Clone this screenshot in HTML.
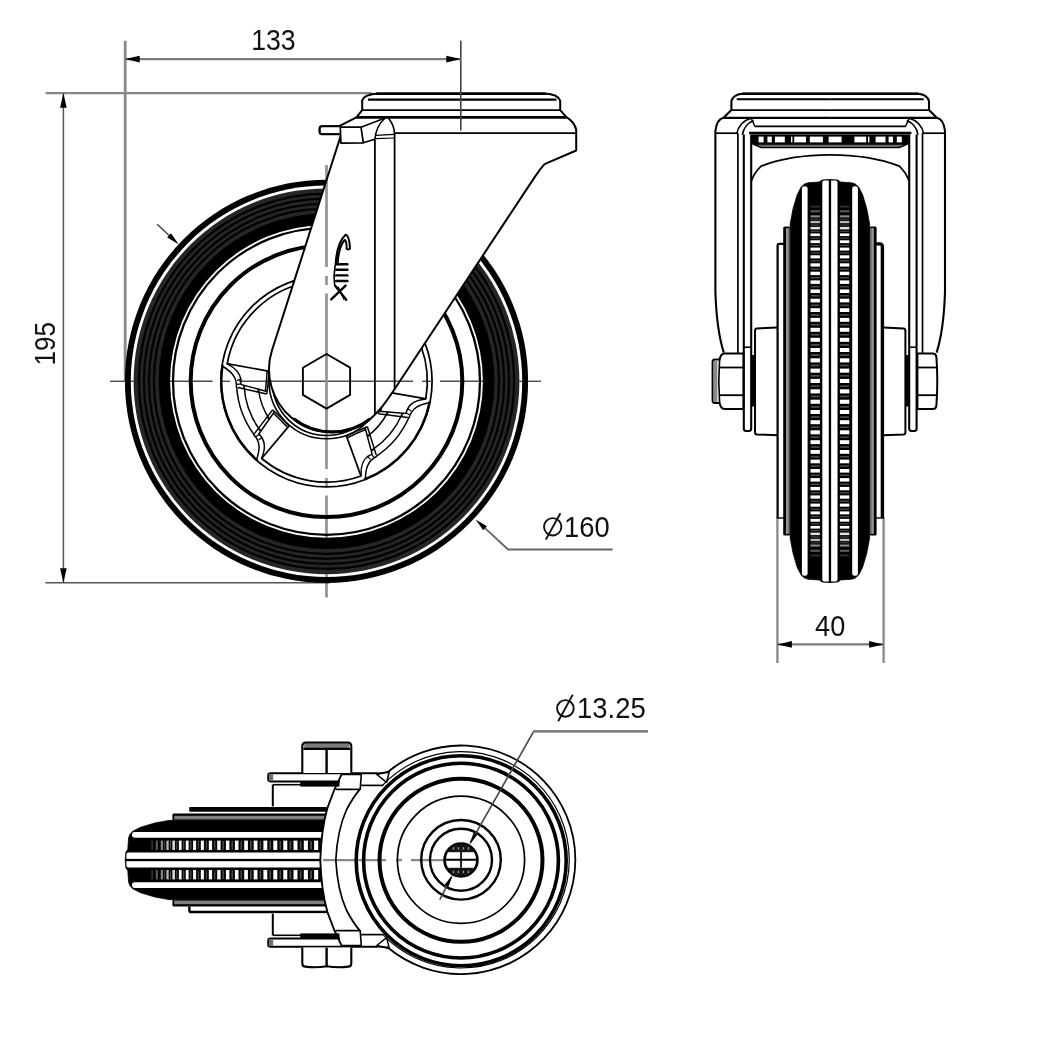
<!DOCTYPE html>
<html lang="en">
<head>
<meta charset="utf-8">
<title>Swivel castor 160 mm - dimensional drawing</title>
<style>
html,body{margin:0;padding:0;background:#fff;}
body{width:1042px;height:1060px;overflow:hidden;font-family:"Liberation Sans",sans-serif;}
svg{display:block;filter:blur(0.55px);}
svg text{font-family:"Liberation Sans",sans-serif;}
</style>
</head>
<body>
<svg width="1042" height="1060" viewBox="0 0 1042 1060" stroke-linecap="butt" stroke-linejoin="round">
<rect x="0" y="0" width="1042" height="1060" fill="#fff"/>
<g id="front-view">
<line x1="45.6" y1="93.2" x2="372" y2="93.2" stroke="#888" stroke-width="2.3"/>
<line x1="45.4" y1="582.8" x2="330" y2="582.8" stroke="#555" stroke-width="1.5"/>
<line x1="125.2" y1="40.7" x2="125.2" y2="381" stroke="#8a8a8a" stroke-width="2.8"/>
<g id="wheel">
<circle cx="326.5" cy="381.3" r="201.6" fill="#000"/>
<circle cx="326.5" cy="381.3" r="195.7" fill="#fff"/>
<circle cx="326.5" cy="381.3" r="192.9" fill="#262626"/>
<circle cx="326.5" cy="381.3" r="172.6" fill="none" stroke="#030303" stroke-width="2.3"/>
<circle cx="326.5" cy="381.3" r="177.6" fill="none" stroke="#030303" stroke-width="2.3"/>
<circle cx="326.5" cy="381.3" r="182.6" fill="none" stroke="#030303" stroke-width="2.3"/>
<circle cx="326.5" cy="381.3" r="187.6" fill="none" stroke="#030303" stroke-width="2.3"/>
<circle cx="326.5" cy="381.3" r="168" fill="#000"/>
<circle cx="326.5" cy="381.3" r="156.4" fill="#fff"/>
<circle cx="326.5" cy="381.3" r="153.5" fill="none" stroke="#000" stroke-width="2.3"/>
<circle cx="326.5" cy="381.3" r="135.8" fill="none" stroke="#000" stroke-width="4"/>
<path d="M361,476 A100.8,100.8 0 0 1 261.7,458.5" fill="none" stroke="#000" stroke-width="1.7"/>
<path d="M227.2,363.8 A100.8,100.8 0 0 1 312.5,281.5" fill="none" stroke="#000" stroke-width="1.7"/>
<path d="M391.3,304.1 A100.8,100.8 0 0 1 425.8,398.8" fill="none" stroke="#000" stroke-width="1.7"/>
<path d="M429.8,401.4 A105.2,105.2 0 0 1 364.2,479.5" fill="none" stroke="#000" stroke-width="2.4"/>
<path d="M388.1,411.3 A68.5,68.5 0 0 1 366.8,436.7" fill="none" stroke="#000" stroke-width="1.5"/>
<path d="M402.3,413.8 A82.5,82.5 0 0 1 371.7,450.3" fill="none" stroke="#000" stroke-width="1.5"/>
<path d="M409,417.3 A90,90 0 0 1 376.3,456.3" fill="none" stroke="#000" stroke-width="1.5"/>
<path d="M257.5,460.7 A105.2,105.2 0 0 1 222.6,364.8" fill="none" stroke="#000" stroke-width="2.4"/>
<path d="M269.7,419.6 A68.5,68.5 0 0 1 258.4,388.5" fill="none" stroke="#000" stroke-width="1.5"/>
<path d="M260.4,430.7 A82.5,82.5 0 0 1 244.1,385.9" fill="none" stroke="#000" stroke-width="1.5"/>
<path d="M254.1,434.7 A90,90 0 0 1 236.7,387" fill="none" stroke="#000" stroke-width="1.5"/>
<path d="M292.3,281.8 A105.2,105.2 0 0 1 392.7,299.5" fill="none" stroke="#000" stroke-width="2.4"/>
<path d="M321.7,313 A68.5,68.5 0 0 1 354.4,318.7" fill="none" stroke="#000" stroke-width="1.5"/>
<path d="M316.7,299.4 A82.5,82.5 0 0 1 363.7,307.7" fill="none" stroke="#000" stroke-width="1.5"/>
<path d="M316.5,291.9 A90,90 0 0 1 366.5,300.7" fill="none" stroke="#000" stroke-width="1.5"/>
<circle cx="326.5" cy="381.3" r="105.6" fill="none" stroke="#000" stroke-width="1.7"/>
<circle cx="326.5" cy="381.3" r="57.5" fill="none" stroke="#000" stroke-width="1.6"/>
<circle cx="326.5" cy="381.3" r="54.2" fill="none" stroke="#000" stroke-width="1.6"/>
<circle cx="326.5" cy="381.3" r="50" fill="none" stroke="#000" stroke-width="1.6"/>
<path d="M269.6,371.3 L226.8,363.7" fill="none" stroke="#000" stroke-width="1.7"/>
<path d="M267,391.5 L240.5,384.4" fill="none" stroke="#000" stroke-width="1.5"/>
<path d="M266.8,394 L237.7,387.6" fill="none" stroke="#000" stroke-width="1.5"/>
<path d="M269,371.5 L268.4,381.2 L266.8,394" fill="none" stroke="#000" stroke-width="1.5"/>
<path d="M267.1,371 L266.5,380.9 L265.3,391" fill="none" stroke="#000" stroke-width="1.5"/>
<path d="M226.8,363.7 C233.5,367.1 242.4,372.6 240.8,384.3" fill="none" stroke="#000" stroke-width="1.5"/>
<path d="M223.1,366.5 C229.8,370.9 237.4,376.3 236.4,387.6" fill="none" stroke="#000" stroke-width="1.5"/>
<path d="M241.5,379.1 L237,380.3" fill="none" stroke="#000" stroke-width="1.2"/>
<path d="M240.8,383.8 L236.9,384.4" fill="none" stroke="#000" stroke-width="1.2"/>
<path d="M258.5,389.2 L257.7,392" fill="none" stroke="#000" stroke-width="1.2"/>
<path d="M244.5,385.5 L243.6,388.9" fill="none" stroke="#000" stroke-width="1.2"/>
<path d="M289.3,425.6 L261.4,458.8" fill="none" stroke="#000" stroke-width="1.7"/>
<path d="M274.4,411.7 L258.6,434.2" fill="none" stroke="#000" stroke-width="1.5"/>
<path d="M272.6,409.9 L254.4,433.6" fill="none" stroke="#000" stroke-width="1.5"/>
<path d="M288.8,425.8 L282.1,418.7 L272.6,409.9" fill="none" stroke="#000" stroke-width="1.5"/>
<path d="M287.6,427.4 L280.8,420.2 L273.4,413.2" fill="none" stroke="#000" stroke-width="1.5"/>
<path d="M261.4,458.8 C264.4,451.9 267.7,442 258.9,434.1" fill="none" stroke="#000" stroke-width="1.5"/>
<path d="M256.8,459.1 C259.2,451.4 261.5,442.4 253.5,434.4" fill="none" stroke="#000" stroke-width="1.5"/>
<path d="M262.8,437.6 L258.6,439.6" fill="none" stroke="#000" stroke-width="1.2"/>
<path d="M259.2,434.5 L255.9,436.5" fill="none" stroke="#000" stroke-width="1.2"/>
<path d="M269.3,419 L266.9,417.3" fill="none" stroke="#000" stroke-width="1.2"/>
<path d="M261,430.8 L258.1,428.7" fill="none" stroke="#000" stroke-width="1.2"/>
<path d="M346.3,435.6 L361.1,476.4" fill="none" stroke="#000" stroke-width="1.7"/>
<path d="M365.1,427.7 L372.2,454.3" fill="none" stroke="#000" stroke-width="1.5"/>
<path d="M367.4,426.7 L376.3,455.1" fill="none" stroke="#000" stroke-width="1.5"/>
<path d="M346.7,436 L355.5,431.6 L367.4,426.7" fill="none" stroke="#000" stroke-width="1.5"/>
<path d="M347.3,437.9 L356.1,433.5 L365.5,429.5" fill="none" stroke="#000" stroke-width="1.5"/>
<path d="M361.1,476.4 C360.7,468.9 361,458.5 371.9,454.1" fill="none" stroke="#000" stroke-width="1.5"/>
<path d="M365.4,478.2 C365.8,470.2 366.7,461 376.9,456.2" fill="none" stroke="#000" stroke-width="1.5"/>
<path d="M367.1,456 L370.4,459.3" fill="none" stroke="#000" stroke-width="1.2"/>
<path d="M371.6,454.3 L374,457.3" fill="none" stroke="#000" stroke-width="1.2"/>
<path d="M367.4,436.2 L370.2,435.5" fill="none" stroke="#000" stroke-width="1.2"/>
<path d="M371.2,450.2 L374.5,449.3" fill="none" stroke="#000" stroke-width="1.2"/>
<path d="M383.4,391.3 L426.2,398.9" fill="none" stroke="#000" stroke-width="1.7"/>
<path d="M378.9,411.3 L406.3,413.6" fill="none" stroke="#000" stroke-width="1.5"/>
<path d="M378.3,413.7 L407.8,417.6" fill="none" stroke="#000" stroke-width="1.5"/>
<path d="M383.9,391.7 L381.1,401.1 L378.3,413.7" fill="none" stroke="#000" stroke-width="1.5"/>
<path d="M385.8,392 L383.1,401.4 L380.7,411.4" fill="none" stroke="#000" stroke-width="1.5"/>
<path d="M426.2,398.9 C418.7,399.8 408.5,401.8 406,413.4" fill="none" stroke="#000" stroke-width="1.5"/>
<path d="M428.7,402.8 C420.9,404.5 411.9,407 409,418" fill="none" stroke="#000" stroke-width="1.5"/>
<path d="M407.1,408.3 L410.9,411" fill="none" stroke="#000" stroke-width="1.2"/>
<path d="M406.2,413 L409.6,414.8" fill="none" stroke="#000" stroke-width="1.2"/>
<path d="M387.7,412 L387.5,414.9" fill="none" stroke="#000" stroke-width="1.2"/>
<path d="M402.1,413.3 L401.8,416.8" fill="none" stroke="#000" stroke-width="1.2"/>
</g>
<path d="M340.9,135.3 L272,350.2 A63,63 0 0 0 361.6,425 C375.7,417.5 386.2,401.7 394.5,389.2 L535.0,176.6 Q540.2,169 544.5,164.2 L576.2,150.5 L576.2,129.8 Q574.5,122 566.4,117.2 L560.2,110.1 L560.2,100.7 Q558.2,94.4 544.6,93.6 L378,93.6 Q364.3,94.4 362.2,100.3 L362.2,110.2 L356.4,117.4 L339.2,126.2 L322,126.2 Q319.6,126.2 319.6,128.6 L319.6,131.8 Q319.6,134.2 322,134.2 L340.6,134.2 Z" fill="#fff" stroke="#000" stroke-width="2"/>
<line x1="376" y1="93.7" x2="546" y2="93.7" stroke="#000" stroke-width="2.5"/>
<path d="M370.4,418.6 A62.4,62.4 0 0 1 293.6,418.6" fill="none" stroke="#000" stroke-width="3"/>
<line x1="368" y1="99.6" x2="556.5" y2="99.6" stroke="#000" stroke-width="2.4"/>
<line x1="362.2" y1="110.2" x2="560.2" y2="110.2" stroke="#000" stroke-width="1.7"/>
<line x1="356.4" y1="117.4" x2="566.4" y2="117.4" stroke="#000" stroke-width="2.6"/>
<line x1="394.6" y1="133.2" x2="576.2" y2="133.2" stroke="#000" stroke-width="1.8"/>
<line x1="374.9" y1="139.3" x2="374.9" y2="414.5" stroke="#000" stroke-width="1.8"/>
<line x1="394.6" y1="133.2" x2="394.6" y2="389.2" stroke="#000" stroke-width="1.8"/>
<path d="M340.3,127.2 L361,127.2 L363.3,142.8 L340.9,143.1 Z" fill="#fff" stroke="#000" stroke-width="1.7"/>
<path d="M361,127.2 L380.6,119.8 L385.2,118" fill="none" stroke="#000" stroke-width="1.6"/>
<path d="M363.3,142.8 L374.9,139.3" fill="none" stroke="#000" stroke-width="1.6"/>
<path d="M385.2,118 Q376,126 374.9,139.3" fill="none" stroke="#000" stroke-width="1.6"/>
<path d="M388.7,118.4 Q394,125 394.6,133.2" fill="none" stroke="#000" stroke-width="1.6"/>
<line x1="375.5" y1="135.3" x2="394.2" y2="134.3" stroke="#000" stroke-width="1.2"/>
<line x1="375.5" y1="138.6" x2="394.2" y2="138" stroke="#000" stroke-width="1.2"/>
<path d="M340.6,126.2 L322,126.2 Q319.6,126.2 319.6,128.6 L319.6,131.8 Q319.6,134.2 322,134.2 L340.6,134.2" fill="none" stroke="#000" stroke-width="1.8"/>
<path d="M350.1,394.9 L326.5,408.6 L302.9,394.9 L302.9,367.7 L326.5,354 L350.1,367.6 Z" fill="none" stroke="#000" stroke-width="1.9"/>
<g fill="none" stroke="#000" stroke-linecap="round">
<path d="M335.6,265 Q336.5,243 345.8,234.6 Q349.5,236 350,248.6 Q347.5,250.2 346.6,248.8 Q346.8,240.5 344.6,240 Q338.6,247 337.6,264" fill="none" stroke="#000" stroke-width="2"/>
<line x1="336.2" y1="264.2" x2="347.4" y2="264.2" stroke="#000" stroke-width="2.4"/>
<line x1="336.2" y1="269.8" x2="347.4" y2="269.8" stroke="#000" stroke-width="2.4"/>
<line x1="336.2" y1="275.4" x2="347.4" y2="275.4" stroke="#000" stroke-width="2.4"/>
<line x1="336.2" y1="281" x2="347.4" y2="281" stroke="#000" stroke-width="2.4"/>
<path d="M335,266 Q333.4,276 334.6,285" fill="none" stroke="#000" stroke-width="1.6"/>
<line x1="331.2" y1="299.4" x2="345.6" y2="285.6" stroke="#000" stroke-width="2.4"/>
<line x1="335.2" y1="285.8" x2="346.2" y2="299.8" stroke="#000" stroke-width="2.4"/>
<line x1="338.4" y1="287" x2="343.8" y2="299.4" stroke="#000" stroke-width="1.1"/>
</g>
<g style="mix-blend-mode:multiply">
<line x1="110" y1="381.3" x2="124.9" y2="381.3" stroke="#4c4c4c" stroke-width="1.4"/>
<line x1="130.8" y1="381.3" x2="133.7" y2="381.3" stroke="#4c4c4c" stroke-width="1.4"/>
<line x1="170" y1="381.3" x2="212.5" y2="381.3" stroke="#4c4c4c" stroke-width="1.4"/>
<line x1="221" y1="381.3" x2="230" y2="381.3" stroke="#4c4c4c" stroke-width="1.4"/>
<line x1="239" y1="381.3" x2="413" y2="381.3" stroke="#4c4c4c" stroke-width="1.4"/>
<line x1="422" y1="381.3" x2="431" y2="381.3" stroke="#4c4c4c" stroke-width="1.4"/>
<line x1="440" y1="381.3" x2="483" y2="381.3" stroke="#4c4c4c" stroke-width="1.4"/>
<line x1="519.3" y1="381.3" x2="522.2" y2="381.3" stroke="#4c4c4c" stroke-width="1.4"/>
<line x1="528.1" y1="381.3" x2="541" y2="381.3" stroke="#4c4c4c" stroke-width="1.4"/>
<line x1="326.5" y1="165" x2="326.5" y2="267" stroke="#969696" stroke-width="2.8"/>
<line x1="326.5" y1="276" x2="326.5" y2="285" stroke="#969696" stroke-width="2.8"/>
<line x1="326.5" y1="293.5" x2="326.5" y2="469" stroke="#969696" stroke-width="2.8"/>
<line x1="326.5" y1="478" x2="326.5" y2="487" stroke="#969696" stroke-width="2.8"/>
<line x1="326.5" y1="495.5" x2="326.5" y2="538.1" stroke="#969696" stroke-width="2.8"/>
<line x1="326.5" y1="574.2" x2="326.5" y2="577" stroke="#969696" stroke-width="2.8"/>
<line x1="326.5" y1="582.9" x2="326.5" y2="597.5" stroke="#969696" stroke-width="2.8"/>
</g>
<line x1="460.8" y1="40.7" x2="460.8" y2="130.4" stroke="#444" stroke-width="1.6"/>
<line x1="125.2" y1="59.1" x2="460.8" y2="59.1" stroke="#7c7c7c" stroke-width="2.4"/>
<polygon points="125.2,59.1 139.7,55.8 139.7,62.4" fill="#000"/>
<polygon points="460.8,59.1 446.3,62.4 446.3,55.8" fill="#000"/>
<text x="273.4" y="50.1" font-size="29.4" text-anchor="middle" fill="#111" textLength="44.5" lengthAdjust="spacingAndGlyphs">133</text>
<line x1="63.4" y1="93.2" x2="63.4" y2="582.8" stroke="#555" stroke-width="1.5"/>
<polygon points="63.4,93.2 66.7,107.7 60.1,107.7" fill="#000"/>
<polygon points="63.4,582.8 60.1,568.3 66.7,568.3" fill="#000"/>
<text x="55.5" y="343.8" font-size="29.4" text-anchor="middle" fill="#111" textLength="43.6" lengthAdjust="spacingAndGlyphs" transform="rotate(-90 55.5 343.8)">195</text>
<line x1="157.2" y1="224.2" x2="170" y2="236.2" stroke="#444" stroke-width="1.5"/>
<polygon points="178.6,244.2 167.2,237.4 171,233.3" fill="#000"/>
<path d="M485,528.2 L508.1,549.5 L612.7,549.5" fill="none" stroke="#666" stroke-width="1.8"/>
<polygon points="475.6,519.4 487,526.2 483.2,530.3" fill="#000"/>
<circle cx="552.7" cy="526.8" r="8.7" fill="none" stroke="#111" stroke-width="1.9"/>
<line x1="545.8" y1="539.6" x2="560.4" y2="513.2" stroke="#111" stroke-width="1.9"/>
<text x="586.9" y="536.7" font-size="29.4" text-anchor="middle" fill="#111" textLength="45.6" lengthAdjust="spacingAndGlyphs">160</text>
</g>
<g id="side-view">
<line x1="777.4" y1="517" x2="777.4" y2="663" stroke="#888" stroke-width="2.3"/>
<line x1="883.6" y1="517" x2="883.6" y2="663" stroke="#888" stroke-width="2.3"/>
<path d="M829.9,179.4 L822.4,180 L820.7,180.8 L819.5,182 L808,182.8 L804.5,184 L801.1,187 L797.1,194.9 L793,208.9 L790.2,223.9 L790.2,538.1 L793,553.1 L797.1,567.1 L801.1,575 L804.5,578 L808,579.2 L819.5,580 L820.7,581.2 L822.4,582 L829.9,582.6 L837.4,582 L839.1,581.2 L840.3,580 L851.8,579.2 L855.3,578 L858.7,575 L862.7,567.1 L866.8,553.1 L869.6,538.1 L869.6,223.9 L866.8,208.9 L862.7,194.9 L858.7,187 L855.3,184 L851.8,182.8 L840.3,182 L839.1,180.8 L837.4,180 Z" fill="#000" stroke="#000" stroke-width="0.8"/>
<rect x="822.3" y="180.6" width="15.2" height="400.8" fill="#fff" rx="2"/>
<rect x="828.8" y="180" width="2.3" height="402.4" fill="#000"/>
<rect x="801.9" y="186.2" width="5.7" height="389.6" fill="#fff" rx="2.4"/>
<rect x="852.2" y="186.2" width="5.7" height="389.6" fill="#fff" rx="2.4"/>
<rect x="810.5" y="205.7" width="9.4" height="1.8" fill="#2f2f2f"/>
<rect x="839.9" y="205.7" width="9.4" height="1.8" fill="#2f2f2f"/>
<rect x="810.5" y="210.3" width="9.4" height="2" fill="#5e5e5e"/>
<rect x="839.9" y="210.3" width="9.4" height="2" fill="#5e5e5e"/>
<rect x="810.5" y="215.3" width="9.4" height="2.1" fill="#8b8b8b"/>
<rect x="839.9" y="215.3" width="9.4" height="2.1" fill="#8b8b8b"/>
<rect x="810.9" y="218.7" width="8.6" height="1" fill="#4a4a4a"/>
<rect x="840.3" y="218.7" width="8.6" height="1" fill="#4a4a4a"/>
<rect x="810.5" y="220.9" width="9.4" height="2.3" fill="#b7b7b7"/>
<rect x="839.9" y="220.9" width="9.4" height="2.3" fill="#b7b7b7"/>
<rect x="810.9" y="224.5" width="8.6" height="1.1" fill="#4a4a4a"/>
<rect x="840.3" y="224.5" width="8.6" height="1.1" fill="#4a4a4a"/>
<rect x="810.5" y="226.9" width="9.4" height="2.5" fill="#e2e2e2"/>
<rect x="839.9" y="226.9" width="9.4" height="2.5" fill="#e2e2e2"/>
<rect x="810.9" y="230.8" width="8.6" height="1.1" fill="#4a4a4a"/>
<rect x="840.3" y="230.8" width="8.6" height="1.1" fill="#4a4a4a"/>
<rect x="810.5" y="233.4" width="9.4" height="2.7" fill="#ffffff"/>
<rect x="839.9" y="233.4" width="9.4" height="2.7" fill="#ffffff"/>
<rect x="810.9" y="237.6" width="8.6" height="1.2" fill="#4a4a4a"/>
<rect x="840.3" y="237.6" width="8.6" height="1.2" fill="#4a4a4a"/>
<rect x="810.5" y="240.3" width="9.4" height="2.8" fill="#ffffff"/>
<rect x="839.9" y="240.3" width="9.4" height="2.8" fill="#ffffff"/>
<rect x="810.9" y="244.7" width="8.6" height="1.3" fill="#4a4a4a"/>
<rect x="840.3" y="244.7" width="8.6" height="1.3" fill="#4a4a4a"/>
<rect x="810.5" y="247.6" width="9.4" height="3" fill="#ffffff"/>
<rect x="839.9" y="247.6" width="9.4" height="3" fill="#ffffff"/>
<rect x="810.9" y="252.2" width="8.6" height="1.3" fill="#4a4a4a"/>
<rect x="840.3" y="252.2" width="8.6" height="1.3" fill="#4a4a4a"/>
<rect x="810.5" y="255.3" width="9.4" height="3.1" fill="#ffffff"/>
<rect x="839.9" y="255.3" width="9.4" height="3.1" fill="#ffffff"/>
<rect x="810.9" y="260.2" width="8.6" height="1.4" fill="#4a4a4a"/>
<rect x="840.3" y="260.2" width="8.6" height="1.4" fill="#4a4a4a"/>
<rect x="810.5" y="263.3" width="9.4" height="3.3" fill="#ffffff"/>
<rect x="839.9" y="263.3" width="9.4" height="3.3" fill="#ffffff"/>
<rect x="810.9" y="268.4" width="8.6" height="1.5" fill="#4a4a4a"/>
<rect x="840.3" y="268.4" width="8.6" height="1.5" fill="#4a4a4a"/>
<rect x="810.5" y="271.7" width="9.4" height="3.4" fill="#ffffff"/>
<rect x="839.9" y="271.7" width="9.4" height="3.4" fill="#ffffff"/>
<rect x="810.9" y="277" width="8.6" height="1.5" fill="#4a4a4a"/>
<rect x="840.3" y="277" width="8.6" height="1.5" fill="#4a4a4a"/>
<rect x="810.5" y="280.4" width="9.4" height="3.5" fill="#ffffff"/>
<rect x="839.9" y="280.4" width="9.4" height="3.5" fill="#ffffff"/>
<rect x="810.9" y="285.9" width="8.6" height="1.6" fill="#4a4a4a"/>
<rect x="840.3" y="285.9" width="8.6" height="1.6" fill="#4a4a4a"/>
<rect x="810.5" y="289.4" width="9.4" height="3.6" fill="#ffffff"/>
<rect x="839.9" y="289.4" width="9.4" height="3.6" fill="#ffffff"/>
<rect x="810.9" y="295" width="8.6" height="1.6" fill="#4a4a4a"/>
<rect x="840.3" y="295" width="8.6" height="1.6" fill="#4a4a4a"/>
<rect x="810.5" y="298.7" width="9.4" height="3.7" fill="#ffffff"/>
<rect x="839.9" y="298.7" width="9.4" height="3.7" fill="#ffffff"/>
<rect x="810.9" y="304.5" width="8.6" height="1.7" fill="#4a4a4a"/>
<rect x="840.3" y="304.5" width="8.6" height="1.7" fill="#4a4a4a"/>
<rect x="810.5" y="308.2" width="9.4" height="3.8" fill="#ffffff"/>
<rect x="839.9" y="308.2" width="9.4" height="3.8" fill="#ffffff"/>
<rect x="810.9" y="314.1" width="8.6" height="1.7" fill="#4a4a4a"/>
<rect x="840.3" y="314.1" width="8.6" height="1.7" fill="#4a4a4a"/>
<rect x="810.5" y="317.9" width="9.4" height="3.9" fill="#ffffff"/>
<rect x="839.9" y="317.9" width="9.4" height="3.9" fill="#ffffff"/>
<rect x="810.9" y="323.9" width="8.6" height="1.7" fill="#4a4a4a"/>
<rect x="840.3" y="323.9" width="8.6" height="1.7" fill="#4a4a4a"/>
<rect x="810.5" y="327.8" width="9.4" height="4" fill="#ffffff"/>
<rect x="839.9" y="327.8" width="9.4" height="4" fill="#ffffff"/>
<rect x="810.9" y="333.9" width="8.6" height="1.7" fill="#4a4a4a"/>
<rect x="840.3" y="333.9" width="8.6" height="1.7" fill="#4a4a4a"/>
<rect x="810.5" y="337.8" width="9.4" height="4" fill="#ffffff"/>
<rect x="839.9" y="337.8" width="9.4" height="4" fill="#ffffff"/>
<rect x="810.9" y="344" width="8.6" height="1.8" fill="#4a4a4a"/>
<rect x="840.3" y="344" width="8.6" height="1.8" fill="#4a4a4a"/>
<rect x="810.5" y="348" width="9.4" height="4" fill="#ffffff"/>
<rect x="839.9" y="348" width="9.4" height="4" fill="#ffffff"/>
<rect x="810.9" y="354.2" width="8.6" height="1.8" fill="#4a4a4a"/>
<rect x="840.3" y="354.2" width="8.6" height="1.8" fill="#4a4a4a"/>
<rect x="810.5" y="358.3" width="9.4" height="4.1" fill="#ffffff"/>
<rect x="839.9" y="358.3" width="9.4" height="4.1" fill="#ffffff"/>
<rect x="810.9" y="364.6" width="8.6" height="1.8" fill="#4a4a4a"/>
<rect x="840.3" y="364.6" width="8.6" height="1.8" fill="#4a4a4a"/>
<rect x="810.5" y="368.6" width="9.4" height="4.1" fill="#ffffff"/>
<rect x="839.9" y="368.6" width="9.4" height="4.1" fill="#ffffff"/>
<rect x="810.9" y="374.9" width="8.6" height="1.8" fill="#4a4a4a"/>
<rect x="840.3" y="374.9" width="8.6" height="1.8" fill="#4a4a4a"/>
<rect x="810.5" y="378.9" width="9.4" height="4.1" fill="#ffffff"/>
<rect x="839.9" y="378.9" width="9.4" height="4.1" fill="#ffffff"/>
<rect x="810.9" y="385.3" width="8.6" height="1.8" fill="#4a4a4a"/>
<rect x="840.3" y="385.3" width="8.6" height="1.8" fill="#4a4a4a"/>
<rect x="810.5" y="389.3" width="9.4" height="4.1" fill="#ffffff"/>
<rect x="839.9" y="389.3" width="9.4" height="4.1" fill="#ffffff"/>
<rect x="810.9" y="395.6" width="8.6" height="1.8" fill="#4a4a4a"/>
<rect x="840.3" y="395.6" width="8.6" height="1.8" fill="#4a4a4a"/>
<rect x="810.5" y="399.7" width="9.4" height="4.1" fill="#ffffff"/>
<rect x="839.9" y="399.7" width="9.4" height="4.1" fill="#ffffff"/>
<rect x="810.9" y="406" width="8.6" height="1.8" fill="#4a4a4a"/>
<rect x="840.3" y="406" width="8.6" height="1.8" fill="#4a4a4a"/>
<rect x="810.5" y="410" width="9.4" height="4" fill="#ffffff"/>
<rect x="839.9" y="410" width="9.4" height="4" fill="#ffffff"/>
<rect x="810.9" y="416.2" width="8.6" height="1.8" fill="#4a4a4a"/>
<rect x="840.3" y="416.2" width="8.6" height="1.8" fill="#4a4a4a"/>
<rect x="810.5" y="420.2" width="9.4" height="4" fill="#ffffff"/>
<rect x="839.9" y="420.2" width="9.4" height="4" fill="#ffffff"/>
<rect x="810.9" y="426.4" width="8.6" height="1.7" fill="#4a4a4a"/>
<rect x="840.3" y="426.4" width="8.6" height="1.7" fill="#4a4a4a"/>
<rect x="810.5" y="430.3" width="9.4" height="4" fill="#ffffff"/>
<rect x="839.9" y="430.3" width="9.4" height="4" fill="#ffffff"/>
<rect x="810.9" y="436.4" width="8.6" height="1.7" fill="#4a4a4a"/>
<rect x="840.3" y="436.4" width="8.6" height="1.7" fill="#4a4a4a"/>
<rect x="810.5" y="440.2" width="9.4" height="3.9" fill="#ffffff"/>
<rect x="839.9" y="440.2" width="9.4" height="3.9" fill="#ffffff"/>
<rect x="810.9" y="446.2" width="8.6" height="1.7" fill="#4a4a4a"/>
<rect x="840.3" y="446.2" width="8.6" height="1.7" fill="#4a4a4a"/>
<rect x="810.5" y="450" width="9.4" height="3.8" fill="#ffffff"/>
<rect x="839.9" y="450" width="9.4" height="3.8" fill="#ffffff"/>
<rect x="810.9" y="455.9" width="8.6" height="1.7" fill="#4a4a4a"/>
<rect x="840.3" y="455.9" width="8.6" height="1.7" fill="#4a4a4a"/>
<rect x="810.5" y="459.6" width="9.4" height="3.7" fill="#ffffff"/>
<rect x="839.9" y="459.6" width="9.4" height="3.7" fill="#ffffff"/>
<rect x="810.9" y="465.3" width="8.6" height="1.6" fill="#4a4a4a"/>
<rect x="840.3" y="465.3" width="8.6" height="1.6" fill="#4a4a4a"/>
<rect x="810.5" y="469" width="9.4" height="3.6" fill="#ffffff"/>
<rect x="839.9" y="469" width="9.4" height="3.6" fill="#ffffff"/>
<rect x="810.9" y="474.5" width="8.6" height="1.6" fill="#4a4a4a"/>
<rect x="840.3" y="474.5" width="8.6" height="1.6" fill="#4a4a4a"/>
<rect x="810.5" y="478.1" width="9.4" height="3.5" fill="#ffffff"/>
<rect x="839.9" y="478.1" width="9.4" height="3.5" fill="#ffffff"/>
<rect x="810.9" y="483.5" width="8.6" height="1.5" fill="#4a4a4a"/>
<rect x="840.3" y="483.5" width="8.6" height="1.5" fill="#4a4a4a"/>
<rect x="810.5" y="486.9" width="9.4" height="3.4" fill="#ffffff"/>
<rect x="839.9" y="486.9" width="9.4" height="3.4" fill="#ffffff"/>
<rect x="810.9" y="492.1" width="8.6" height="1.5" fill="#4a4a4a"/>
<rect x="840.3" y="492.1" width="8.6" height="1.5" fill="#4a4a4a"/>
<rect x="810.5" y="495.4" width="9.4" height="3.3" fill="#ffffff"/>
<rect x="839.9" y="495.4" width="9.4" height="3.3" fill="#ffffff"/>
<rect x="810.9" y="500.4" width="8.6" height="1.4" fill="#4a4a4a"/>
<rect x="840.3" y="500.4" width="8.6" height="1.4" fill="#4a4a4a"/>
<rect x="810.5" y="503.6" width="9.4" height="3.1" fill="#ffffff"/>
<rect x="839.9" y="503.6" width="9.4" height="3.1" fill="#ffffff"/>
<rect x="810.9" y="508.4" width="8.6" height="1.3" fill="#4a4a4a"/>
<rect x="840.3" y="508.4" width="8.6" height="1.3" fill="#4a4a4a"/>
<rect x="810.5" y="511.4" width="9.4" height="3" fill="#ffffff"/>
<rect x="839.9" y="511.4" width="9.4" height="3" fill="#ffffff"/>
<rect x="810.9" y="516" width="8.6" height="1.3" fill="#4a4a4a"/>
<rect x="840.3" y="516" width="8.6" height="1.3" fill="#4a4a4a"/>
<rect x="810.5" y="518.9" width="9.4" height="2.8" fill="#ffffff"/>
<rect x="839.9" y="518.9" width="9.4" height="2.8" fill="#ffffff"/>
<rect x="810.9" y="523.2" width="8.6" height="1.2" fill="#4a4a4a"/>
<rect x="840.3" y="523.2" width="8.6" height="1.2" fill="#4a4a4a"/>
<rect x="810.5" y="525.9" width="9.4" height="2.7" fill="#ffffff"/>
<rect x="839.9" y="525.9" width="9.4" height="2.7" fill="#ffffff"/>
<rect x="810.9" y="530" width="8.6" height="1.1" fill="#4a4a4a"/>
<rect x="840.3" y="530" width="8.6" height="1.1" fill="#4a4a4a"/>
<rect x="810.5" y="532.6" width="9.4" height="2.5" fill="#e2e2e2"/>
<rect x="839.9" y="532.6" width="9.4" height="2.5" fill="#e2e2e2"/>
<rect x="810.9" y="536.4" width="8.6" height="1.1" fill="#4a4a4a"/>
<rect x="840.3" y="536.4" width="8.6" height="1.1" fill="#4a4a4a"/>
<rect x="810.5" y="538.8" width="9.4" height="2.3" fill="#b7b7b7"/>
<rect x="839.9" y="538.8" width="9.4" height="2.3" fill="#b7b7b7"/>
<rect x="810.9" y="542.3" width="8.6" height="1" fill="#4a4a4a"/>
<rect x="840.3" y="542.3" width="8.6" height="1" fill="#4a4a4a"/>
<rect x="810.5" y="544.5" width="9.4" height="2.1" fill="#8b8b8b"/>
<rect x="839.9" y="544.5" width="9.4" height="2.1" fill="#8b8b8b"/>
<rect x="810.5" y="549.8" width="9.4" height="2" fill="#5e5e5e"/>
<rect x="839.9" y="549.8" width="9.4" height="2" fill="#5e5e5e"/>
<rect x="810.5" y="554.6" width="9.4" height="1.8" fill="#2f2f2f"/>
<rect x="839.9" y="554.6" width="9.4" height="1.8" fill="#2f2f2f"/>
<rect x="783.2" y="226.4" width="7" height="309.2" fill="#000" rx="1.5"/>
<rect x="786.3" y="228.2" width="3.3" height="305.6" fill="#7a7a7a"/>
<rect x="786.3" y="228.2" width="1" height="305.6" fill="#b8b8b8"/>
<rect x="869.6" y="226.4" width="7" height="309.2" fill="#000" rx="1.5"/>
<rect x="870.2" y="228.2" width="3.3" height="305.6" fill="#7a7a7a"/>
<rect x="872.5" y="228.2" width="1" height="305.6" fill="#b8b8b8"/>
<path d="M785,243.9 L779.4,243.9 Q777.6,243.9 777.6,245.7 L777.6,518" fill="none" stroke="#000" stroke-width="2.2"/>
<path d="M875.4,243.9 L879.6,243.9 Q882.4,243.9 882.4,246.7 L882.4,518" fill="none" stroke="#000" stroke-width="3.4"/>
<line x1="785" y1="518" x2="777" y2="518" stroke="#000" stroke-width="1.4"/>
<line x1="875" y1="518" x2="884" y2="518" stroke="#000" stroke-width="1.4"/>
<path d="M830.2,93.7 L742.2,93.7 Q733.2,94.6 731.4,101.0 L731.4,110.1 L723.6,117.8 Q716.6,119.5 715.4,131 L715.4,292 Q716.6,330 723.8,352.6" fill="none" stroke="#000" stroke-width="2.1"/>
<line x1="830.2" y1="93.7" x2="742.2" y2="93.7" stroke="#000" stroke-width="2.5"/>
<line x1="830.2" y1="99.2" x2="736.7" y2="99.2" stroke="#000" stroke-width="1.9"/>
<line x1="830.2" y1="110.1" x2="731.4" y2="110.1" stroke="#000" stroke-width="1.7"/>
<line x1="830.2" y1="117.8" x2="723.6" y2="117.8" stroke="#000" stroke-width="2.3"/>
<line x1="715.4" y1="133.2" x2="737.9" y2="133.2" stroke="#000" stroke-width="1.7"/>
<line x1="737.9" y1="133.2" x2="737.9" y2="353" stroke="#000" stroke-width="1.7"/>
<path d="M743.8,134.5 L743.8,428.6 Q743.8,431 745.8,431 L749,431 Q751.2,431 751.2,428.6 L751.2,134.5" fill="none" stroke="#000" stroke-width="2.1"/>
<line x1="743.8" y1="347.2" x2="751.2" y2="347.2" stroke="#000" stroke-width="1.6"/>
<path d="M736.8,133.6 Q739.2,121.5 751.2,118.2" fill="none" stroke="#000" stroke-width="1.6"/>
<path d="M742.4,134.8 Q744.2,124.5 753.6,120.6" fill="none" stroke="#000" stroke-width="1.6"/>
<path d="M751.2,118.2 L754.8,126.2" fill="none" stroke="#000" stroke-width="1.5"/>
<rect x="751" y="355" width="3.8" height="51.5" fill="#000"/>
<path d="M777.2,327.6 L756.8,328.4 Q755,328.6 755,330.6 L755,432.2 Q755,434.2 756.8,434.4 L777.2,435.2" fill="none" stroke="#000" stroke-width="2"/>
<path d="M830.2,93.7 L918.2,93.7 Q927.2,94.6 929,101.0 L929,110.1 L936.8,117.8 Q943.8,119.5 945,131 L945,292 Q943.8,330 936.6,352.6" fill="none" stroke="#000" stroke-width="2.1"/>
<line x1="830.2" y1="93.7" x2="918.2" y2="93.7" stroke="#000" stroke-width="2.5"/>
<line x1="830.2" y1="99.2" x2="923.7" y2="99.2" stroke="#000" stroke-width="1.9"/>
<line x1="830.2" y1="110.1" x2="929" y2="110.1" stroke="#000" stroke-width="1.7"/>
<line x1="830.2" y1="117.8" x2="936.8" y2="117.8" stroke="#000" stroke-width="2.3"/>
<line x1="945" y1="133.2" x2="922.5" y2="133.2" stroke="#000" stroke-width="1.7"/>
<line x1="922.5" y1="133.2" x2="922.5" y2="353" stroke="#000" stroke-width="1.7"/>
<path d="M916.6,134.5 L916.6,428.6 Q916.6,431 914.6,431 L911.4,431 Q909.2,431 909.2,428.6 L909.2,134.5" fill="none" stroke="#000" stroke-width="2.1"/>
<line x1="916.6" y1="347.2" x2="909.2" y2="347.2" stroke="#000" stroke-width="1.6"/>
<path d="M923.6,133.6 Q921.2,121.5 909.2,118.2" fill="none" stroke="#000" stroke-width="1.6"/>
<path d="M918,134.8 Q916.2,124.5 906.8,120.6" fill="none" stroke="#000" stroke-width="1.6"/>
<path d="M909.2,118.2 L905.6,126.2" fill="none" stroke="#000" stroke-width="1.5"/>
<rect x="905.6" y="355" width="3.8" height="51.5" fill="#000"/>
<path d="M883.2,327.6 L903.6,328.4 Q905.4,328.6 905.4,330.6 L905.4,432.2 Q905.4,434.2 903.6,434.4 L883.2,435.2" fill="none" stroke="#000" stroke-width="2"/>
<line x1="754.6" y1="126.3" x2="905.8" y2="126.3" stroke="#000" stroke-width="1.7"/>
<line x1="749" y1="133" x2="911.4" y2="133" stroke="#000" stroke-width="2.4"/>
<rect x="751.8" y="134.4" width="156.8" height="9.6" fill="#000"/>
<rect x="758.6" y="136.6" width="5" height="5.8" fill="#fff"/>
<rect x="896.8" y="136.6" width="5" height="5.8" fill="#fff"/>
<rect x="767.4" y="136.6" width="4.4" height="5.8" fill="#fff"/>
<rect x="888.6" y="136.6" width="4.4" height="5.8" fill="#fff"/>
<rect x="774.9" y="136.6" width="9.9" height="5.8" fill="#fff"/>
<rect x="875.6" y="136.6" width="9.9" height="5.8" fill="#fff"/>
<rect x="791" y="136.6" width="1.4" height="5.8" fill="#fff"/>
<rect x="868" y="136.6" width="1.4" height="5.8" fill="#fff"/>
<rect x="794.2" y="136.6" width="11.8" height="5.8" fill="#fff"/>
<rect x="854.4" y="136.6" width="11.8" height="5.8" fill="#fff"/>
<rect x="809.8" y="136.6" width="13.1" height="5.8" fill="#fff"/>
<rect x="828.6" y="136.6" width="13" height="5.8" fill="#fff"/>
<path d="M753,144 L761.2,147.6 L899.2,147.6 L907.4,144 Z" fill="#666" stroke="#000" stroke-width="1.4"/>
<path d="M751.6,180.6 Q754,173 761.1,166.1 Q790,155 830.2,154.9 Q870.4,155 899.3,166.1 Q906.4,173 908.8,180.6" fill="none" stroke="#000" stroke-width="1.7"/>
<path d="M743.4,353.4 L724.0,353.4 Q720.6,354 719.6,359.6 L714.6,359.6 Q712.6,359.8 712.6,362 L712.6,400.4 Q712.6,402.8 714.6,402.9 L719.6,402.9 Q720.6,408.4 724.0,409.0 L743.4,409.0 Z" fill="#fff" stroke="#000" stroke-width="2"/>
<line x1="719.8" y1="367.5" x2="743.4" y2="367.5" stroke="#000" stroke-width="1.8"/>
<line x1="719.8" y1="395.2" x2="743.4" y2="395.2" stroke="#000" stroke-width="1.8"/>
<path d="M719.6,359.6 Q718.0,381 719.6,402.9" fill="none" stroke="#000" stroke-width="1.6"/>
<rect x="713.4" y="361" width="4" height="41" fill="#8a8a8a"/>
<path d="M917.4,353.4 L933.0,353.4 Q936.2,353.6 936.4,357 Q938.2,381 936.4,405.4 Q936.2,408.8 933.0,409.0 L917.4,409.0 Z" fill="#fff" stroke="#000" stroke-width="2"/>
<line x1="917.4" y1="367.5" x2="936.6" y2="367.5" stroke="#000" stroke-width="1.8"/>
<line x1="917.4" y1="395.2" x2="936.6" y2="395.2" stroke="#000" stroke-width="1.8"/>
<line x1="777.4" y1="644.4" x2="883.6" y2="644.4" stroke="#7c7c7c" stroke-width="2.4"/>
<polygon points="777.4,644.4 791.9,641.1 791.9,647.7" fill="#000"/>
<polygon points="883.6,644.4 869.1,647.7 869.1,641.1" fill="#000"/>
<text x="830.2" y="635.5" font-size="29.4" text-anchor="middle" fill="#111" textLength="30.2" lengthAdjust="spacingAndGlyphs">40</text>
</g>
<g id="bottom-view">
<path d="M125.2,860 L125.8,852.5 L126.6,850.8 L127.8,849.6 L128.6,838.1 L129.8,834.6 L132.8,831.2 L140.7,827.2 L154.7,823.1 L169.7,820.3 L330,820.3 L330,899.7 L169.7,899.7 L154.7,896.9 L140.7,892.8 L132.8,888.8 L129.8,885.4 L128.6,881.9 L127.8,870.4 L126.6,869.2 L125.8,867.5 Z" fill="#000" stroke="#000" stroke-width="0.8"/>
<rect x="126.4" y="852.4" width="203.6" height="15.2" fill="#fff" rx="2"/>
<rect x="125.8" y="858.9" width="204.8" height="2.3" fill="#000"/>
<rect x="132" y="832" width="198" height="5.7" fill="#fff" rx="2.4"/>
<rect x="132" y="882.3" width="198" height="5.7" fill="#fff" rx="2.4"/>
<rect x="151.2" y="840.6" width="1.8" height="9.4" fill="#2f2f2f"/>
<rect x="151.2" y="870" width="1.8" height="9.4" fill="#2f2f2f"/>
<rect x="155.8" y="840.6" width="2" height="9.4" fill="#5e5e5e"/>
<rect x="155.8" y="870" width="2" height="9.4" fill="#5e5e5e"/>
<rect x="160.8" y="840.6" width="2.1" height="9.4" fill="#8b8b8b"/>
<rect x="160.8" y="870" width="2.1" height="9.4" fill="#8b8b8b"/>
<rect x="166.4" y="840.6" width="2.3" height="9.4" fill="#b7b7b7"/>
<rect x="166.4" y="870" width="2.3" height="9.4" fill="#b7b7b7"/>
<rect x="164.2" y="841" width="1" height="8.6" fill="#4a4a4a"/>
<rect x="164.2" y="870.4" width="1" height="8.6" fill="#4a4a4a"/>
<rect x="172.4" y="840.6" width="2.5" height="9.4" fill="#e2e2e2"/>
<rect x="172.4" y="870" width="2.5" height="9.4" fill="#e2e2e2"/>
<rect x="170" y="841" width="1.1" height="8.6" fill="#4a4a4a"/>
<rect x="170" y="870.4" width="1.1" height="8.6" fill="#4a4a4a"/>
<rect x="178.9" y="840.6" width="2.7" height="9.4" fill="#ffffff"/>
<rect x="178.9" y="870" width="2.7" height="9.4" fill="#ffffff"/>
<rect x="176.3" y="841" width="1.1" height="8.6" fill="#4a4a4a"/>
<rect x="176.3" y="870.4" width="1.1" height="8.6" fill="#4a4a4a"/>
<rect x="185.8" y="840.6" width="2.8" height="9.4" fill="#ffffff"/>
<rect x="185.8" y="870" width="2.8" height="9.4" fill="#ffffff"/>
<rect x="183.1" y="841" width="1.2" height="8.6" fill="#4a4a4a"/>
<rect x="183.1" y="870.4" width="1.2" height="8.6" fill="#4a4a4a"/>
<rect x="193.1" y="840.6" width="3" height="9.4" fill="#ffffff"/>
<rect x="193.1" y="870" width="3" height="9.4" fill="#ffffff"/>
<rect x="190.2" y="841" width="1.3" height="8.6" fill="#4a4a4a"/>
<rect x="190.2" y="870.4" width="1.3" height="8.6" fill="#4a4a4a"/>
<rect x="200.8" y="840.6" width="3.1" height="9.4" fill="#ffffff"/>
<rect x="200.8" y="870" width="3.1" height="9.4" fill="#ffffff"/>
<rect x="197.7" y="841" width="1.3" height="8.6" fill="#4a4a4a"/>
<rect x="197.7" y="870.4" width="1.3" height="8.6" fill="#4a4a4a"/>
<rect x="208.8" y="840.6" width="3.3" height="9.4" fill="#ffffff"/>
<rect x="208.8" y="870" width="3.3" height="9.4" fill="#ffffff"/>
<rect x="205.7" y="841" width="1.4" height="8.6" fill="#4a4a4a"/>
<rect x="205.7" y="870.4" width="1.4" height="8.6" fill="#4a4a4a"/>
<rect x="217.2" y="840.6" width="3.4" height="9.4" fill="#ffffff"/>
<rect x="217.2" y="870" width="3.4" height="9.4" fill="#ffffff"/>
<rect x="213.9" y="841" width="1.5" height="8.6" fill="#4a4a4a"/>
<rect x="213.9" y="870.4" width="1.5" height="8.6" fill="#4a4a4a"/>
<rect x="225.9" y="840.6" width="3.5" height="9.4" fill="#ffffff"/>
<rect x="225.9" y="870" width="3.5" height="9.4" fill="#ffffff"/>
<rect x="222.5" y="841" width="1.5" height="8.6" fill="#4a4a4a"/>
<rect x="222.5" y="870.4" width="1.5" height="8.6" fill="#4a4a4a"/>
<rect x="234.9" y="840.6" width="3.6" height="9.4" fill="#ffffff"/>
<rect x="234.9" y="870" width="3.6" height="9.4" fill="#ffffff"/>
<rect x="231.4" y="841" width="1.6" height="8.6" fill="#4a4a4a"/>
<rect x="231.4" y="870.4" width="1.6" height="8.6" fill="#4a4a4a"/>
<rect x="244.2" y="840.6" width="3.7" height="9.4" fill="#ffffff"/>
<rect x="244.2" y="870" width="3.7" height="9.4" fill="#ffffff"/>
<rect x="240.5" y="841" width="1.6" height="8.6" fill="#4a4a4a"/>
<rect x="240.5" y="870.4" width="1.6" height="8.6" fill="#4a4a4a"/>
<rect x="253.7" y="840.6" width="3.8" height="9.4" fill="#ffffff"/>
<rect x="253.7" y="870" width="3.8" height="9.4" fill="#ffffff"/>
<rect x="250" y="841" width="1.7" height="8.6" fill="#4a4a4a"/>
<rect x="250" y="870.4" width="1.7" height="8.6" fill="#4a4a4a"/>
<rect x="263.4" y="840.6" width="3.9" height="9.4" fill="#ffffff"/>
<rect x="263.4" y="870" width="3.9" height="9.4" fill="#ffffff"/>
<rect x="259.6" y="841" width="1.7" height="8.6" fill="#4a4a4a"/>
<rect x="259.6" y="870.4" width="1.7" height="8.6" fill="#4a4a4a"/>
<rect x="273.3" y="840.6" width="4" height="9.4" fill="#ffffff"/>
<rect x="273.3" y="870" width="4" height="9.4" fill="#ffffff"/>
<rect x="269.4" y="841" width="1.7" height="8.6" fill="#4a4a4a"/>
<rect x="269.4" y="870.4" width="1.7" height="8.6" fill="#4a4a4a"/>
<rect x="283.3" y="840.6" width="4" height="9.4" fill="#ffffff"/>
<rect x="283.3" y="870" width="4" height="9.4" fill="#ffffff"/>
<rect x="279.4" y="841" width="1.7" height="8.6" fill="#4a4a4a"/>
<rect x="279.4" y="870.4" width="1.7" height="8.6" fill="#4a4a4a"/>
<rect x="293.5" y="840.6" width="4" height="9.4" fill="#ffffff"/>
<rect x="293.5" y="870" width="4" height="9.4" fill="#ffffff"/>
<rect x="289.5" y="841" width="1.8" height="8.6" fill="#4a4a4a"/>
<rect x="289.5" y="870.4" width="1.8" height="8.6" fill="#4a4a4a"/>
<rect x="303.8" y="840.6" width="4.1" height="9.4" fill="#ffffff"/>
<rect x="303.8" y="870" width="4.1" height="9.4" fill="#ffffff"/>
<rect x="299.7" y="841" width="1.8" height="8.6" fill="#4a4a4a"/>
<rect x="299.7" y="870.4" width="1.8" height="8.6" fill="#4a4a4a"/>
<rect x="314.1" y="840.6" width="4.1" height="9.4" fill="#ffffff"/>
<rect x="314.1" y="870" width="4.1" height="9.4" fill="#ffffff"/>
<rect x="310.1" y="841" width="1.8" height="8.6" fill="#4a4a4a"/>
<rect x="310.1" y="870.4" width="1.8" height="8.6" fill="#4a4a4a"/>
<rect x="324.4" y="840.6" width="4.1" height="9.4" fill="#ffffff"/>
<rect x="324.4" y="870" width="4.1" height="9.4" fill="#ffffff"/>
<rect x="320.4" y="841" width="1.8" height="8.6" fill="#4a4a4a"/>
<rect x="320.4" y="870.4" width="1.8" height="8.6" fill="#4a4a4a"/>
<rect x="172.4" y="813.4" width="160" height="6.9" fill="#000" rx="1.5"/>
<rect x="174.2" y="815.8" width="158" height="3.6" fill="#808080"/>
<rect x="172.4" y="899.7" width="160" height="6.9" fill="#000" rx="1.5"/>
<rect x="174.2" y="900.6" width="158" height="3.6" fill="#808080"/>
<rect x="189.2" y="806.9" width="140" height="4.8" fill="#000" rx="1"/>
<path d="M330,912 L191,912 Q189.4,912 189.4,910.4 L189.4,906.4" fill="none" stroke="#000" stroke-width="2.4"/>
<circle cx="461" cy="859.8" r="114.3" fill="#fff"/>
<path d="M320.3,860 L322.4,833 L327.4,808 L334.4,788.8 L341.6,774.4 L400,774.4 L400,860 Z" fill="#fff" stroke="#fff" stroke-width="0"/>
<path d="M272.8,806.6 L272.8,784.7 L338,784.7 L330.5,806.6 Z" fill="#fff" stroke="#fff" stroke-width="0"/>
<line x1="272.8" y1="806.4" x2="272.8" y2="784.7" stroke="#000" stroke-width="2"/>
<line x1="272.8" y1="784.7" x2="301" y2="784.7" stroke="#000" stroke-width="1.6"/>
<rect x="300.3" y="781.2" width="39.2" height="5.4" fill="#000"/>
<path d="M377.8,773.3 L270.6,773.3 Q268.2,773.3 268.2,775.6 L268.2,779.1 Q268.2,781.4 270.6,781.4 L340,781.4" fill="#fff" stroke="#000" stroke-width="2"/>
<rect x="268.8" y="773.9" width="4.4" height="6.9" fill="#707070"/>
<path d="M377.8,773.3 Q383,773.1 387.2,772.4" fill="none" stroke="#000" stroke-width="1.7"/>
<path d="M320.3,860 Q321.2,830 327.4,808 Q333.4,790 341.6,774.4" fill="none" stroke="#000" stroke-width="1.9"/>
<path d="M335.8,860 Q337.4,830 346.4,810 Q352.6,798 359.6,789.6" fill="none" stroke="#000" stroke-width="1.7"/>
<path d="M341.6,774.4 L361.3,774.4 L360.2,789.4 L335.6,789.4" fill="none" stroke="#000" stroke-width="1.6"/>
<line x1="361.2" y1="785.4" x2="383.2" y2="785.4" stroke="#000" stroke-width="1.7"/>
<path d="M376.8,774.5 L386.6,782.3 L389.4,771.4 Z" fill="none" stroke="#000" stroke-width="1.5"/>
<path d="M320.3,860 L322.4,887 L327.4,912 L334.4,931.2 L341.6,945.6 L400,945.6 L400,860 Z" fill="#fff" stroke="#fff" stroke-width="0"/>
<path d="M272.8,913.4 L272.8,935.3 L338,935.3 L330.5,913.4 Z" fill="#fff" stroke="#fff" stroke-width="0"/>
<line x1="272.8" y1="913.6" x2="272.8" y2="935.3" stroke="#000" stroke-width="2"/>
<line x1="272.8" y1="935.3" x2="301" y2="935.3" stroke="#000" stroke-width="1.6"/>
<rect x="300.3" y="933.4" width="39.2" height="5.4" fill="#000"/>
<path d="M377.8,946.7 L270.6,946.7 Q268.2,946.7 268.2,944.4 L268.2,940.9 Q268.2,938.6 270.6,938.6 L340,938.6" fill="#fff" stroke="#000" stroke-width="2"/>
<rect x="268.8" y="939.2" width="4.4" height="6.9" fill="#707070"/>
<path d="M377.8,946.7 Q383,946.9 387.2,947.6" fill="none" stroke="#000" stroke-width="1.7"/>
<path d="M320.3,860 Q321.2,890 327.4,912 Q333.4,930 341.6,945.6" fill="none" stroke="#000" stroke-width="1.9"/>
<path d="M335.8,860 Q337.4,890 346.4,910 Q352.6,922 359.6,930.4" fill="none" stroke="#000" stroke-width="1.7"/>
<path d="M341.6,945.6 L361.3,945.6 L360.2,930.6 L335.6,930.6" fill="none" stroke="#000" stroke-width="1.6"/>
<line x1="361.2" y1="934.6" x2="383.2" y2="934.6" stroke="#000" stroke-width="1.7"/>
<path d="M376.8,945.5 L386.6,937.7 L389.4,948.6 Z" fill="none" stroke="#000" stroke-width="1.5"/>
<path d="M302.3,773 L302.3,746.4 Q302.3,742.6 306,742.6 L347.6,742.6 Q351.3,742.6 351.3,746.4 L351.3,773" fill="#fff" stroke="#000" stroke-width="2.1"/>
<rect x="304.2" y="743.8" width="45.2" height="4.4" fill="#7a7a7a"/>
<line x1="303.4" y1="748.8" x2="350.2" y2="748.8" stroke="#000" stroke-width="2.2"/>
<line x1="326.6" y1="748.8" x2="326.6" y2="773" stroke="#000" stroke-width="2.4"/>
<path d="M302.3,947.6 L302.3,963.4 Q302.3,966.6 305.4,966.6 Q316,968 326.6,966.2 Q338,968 348.2,966.6 Q351.3,966.6 351.3,963.4 L351.3,947.6" fill="#fff" stroke="#000" stroke-width="2.1"/>
<line x1="326.6" y1="947.6" x2="326.6" y2="966.2" stroke="#000" stroke-width="2.4"/>
<path d="M386.9,772.8 A114.3,114.3 0 1 1 386.9,946.8" fill="none" stroke="#000" stroke-width="1.8"/>
<path d="M382.4,785.5 A108.2,108.2 0 1 1 382.4,934.1" fill="none" stroke="#000" stroke-width="1.2"/>
<circle cx="461.2" cy="860.8" r="105" fill="none" stroke="#000" stroke-width="3.6"/>
<circle cx="461" cy="860.6" r="97.4" fill="none" stroke="#000" stroke-width="3.6"/>
<circle cx="461" cy="860.3" r="81.5" fill="none" stroke="#000" stroke-width="4"/>
<circle cx="461" cy="859.8" r="63.6" fill="none" stroke="#000" stroke-width="1.7"/>
<circle cx="461" cy="859.8" r="39.8" fill="none" stroke="#000" stroke-width="2.4"/>
<circle cx="461" cy="859.8" r="31" fill="none" stroke="#000" stroke-width="2.4"/>
<circle cx="461" cy="860" r="16.4" fill="#fff" stroke="#000" stroke-width="2.7"/>
<clipPath id="bore"><circle cx="461" cy="860" r="15.4"/></clipPath>
<g clip-path="url(#bore)">
<rect x="444" y="842.8" width="34" height="9.4" fill="#141414"/>
<rect x="444" y="867.8" width="34" height="9.4" fill="#141414"/>
<rect x="452.8" y="847.2" width="1.4" height="2.4" fill="#9a9a9a"/>
<rect x="452.8" y="870.8" width="1.4" height="2.4" fill="#9a9a9a"/>
<rect x="457.7" y="847.2" width="1.4" height="2.4" fill="#9a9a9a"/>
<rect x="457.7" y="870.8" width="1.4" height="2.4" fill="#9a9a9a"/>
<rect x="462.7" y="847.2" width="1.4" height="2.4" fill="#9a9a9a"/>
<rect x="462.7" y="870.8" width="1.4" height="2.4" fill="#9a9a9a"/>
<rect x="467.7" y="847.2" width="1.4" height="2.4" fill="#9a9a9a"/>
<rect x="467.7" y="870.8" width="1.4" height="2.4" fill="#9a9a9a"/>
<line x1="444" y1="859.8" x2="478" y2="859.8" stroke="#000" stroke-width="1.9"/>
<line x1="461" y1="852" x2="461" y2="867.8" stroke="#000" stroke-width="1.7"/>
</g>
<g style="mix-blend-mode:multiply">
<line x1="323" y1="860.1" x2="386" y2="860.1" stroke="#888" stroke-width="2.3"/>
<line x1="396" y1="860.1" x2="402" y2="860.1" stroke="#888" stroke-width="2.3"/>
<line x1="411" y1="860.1" x2="446" y2="860.1" stroke="#888" stroke-width="2.3"/>
</g>
<line x1="533.7" y1="731.4" x2="470.7" y2="842.3" stroke="#444" stroke-width="1.6"/>
<line x1="451.3" y1="877.3" x2="439.8" y2="899.7" stroke="#444" stroke-width="1.6"/>
<line x1="533.1" y1="731.4" x2="648" y2="731.4" stroke="#808080" stroke-width="2.6"/>
<polygon points="469.2,845.1 473.6,832.7 477.4,834.8" fill="#000"/>
<polygon points="452.8,874.5 448.4,886.9 444.6,884.8" fill="#000"/>
<circle cx="565.4" cy="708.4" r="8.3" fill="none" stroke="#111" stroke-width="1.9"/>
<line x1="558.2" y1="721.2" x2="572.8" y2="694.6" stroke="#111" stroke-width="1.9"/>
<text x="611.4" y="718.1" font-size="29.4" text-anchor="middle" fill="#111" textLength="68.6" lengthAdjust="spacingAndGlyphs">13.25</text>
</g>
</svg>
</body>
</html>
